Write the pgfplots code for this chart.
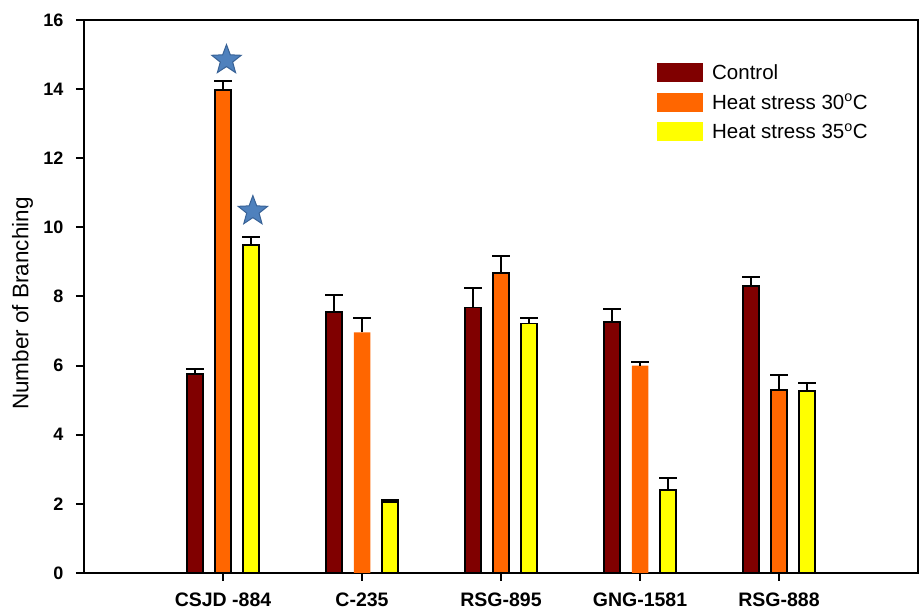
\documentclass[border=0pt]{standalone}
\usepackage{fontspec}
\setmainfont{Liberation Sans}
\usepackage{pgfplots}
\pgfplotsset{compat=1.18}
\definecolor{ctrl}{RGB}{128,0,0}
\definecolor{h30}{RGB}{255,102,0}
\definecolor{h35}{RGB}{255,255,0}
\definecolor{starblue}{RGB}{79,129,189}
\definecolor{stardark}{RGB}{56,98,150}
\pgfdeclareplotmark{fivestar}{%
  \pgfpathmoveto{\pgfpointpolar{90}{\pgfplotmarksize}}%
  \pgfpathlineto{\pgfpointpolar{126}{0.42\pgfplotmarksize}}%
  \pgfpathlineto{\pgfpointpolar{162}{\pgfplotmarksize}}%
  \pgfpathlineto{\pgfpointpolar{198}{0.42\pgfplotmarksize}}%
  \pgfpathlineto{\pgfpointpolar{234}{\pgfplotmarksize}}%
  \pgfpathlineto{\pgfpointpolar{270}{0.42\pgfplotmarksize}}%
  \pgfpathlineto{\pgfpointpolar{306}{\pgfplotmarksize}}%
  \pgfpathlineto{\pgfpointpolar{342}{0.42\pgfplotmarksize}}%
  \pgfpathlineto{\pgfpointpolar{18}{\pgfplotmarksize}}%
  \pgfpathlineto{\pgfpointpolar{54}{0.42\pgfplotmarksize}}%
  \pgfpathclose
  \pgfusepathqfillstroke
}
\pgfplotsset{
  errs/.style={
    error bars/y dir=plus, error bars/y explicit, error bars/error mark=-,
    error bars/error bar style={line width=2pt, black},
    error bars/error mark options={line width=2pt, mark size=9pt, black, rotate=90}},
}
\begin{document}
\begin{tikzpicture}
\useasboundingbox (-84pt,-36pt) rectangle (836pt,573pt);
\begin{axis}[
  at={(0pt,0pt)}, anchor=south west,
  scale only axis, width=834pt, height=553pt,
  ybar, bar width=16.5pt,
  xmin=-1, xmax=5, ymin=0, ymax=16,
  xtick={0,1,2,3,4},
  xticklabels={CSJD -884, C-235, RSG-895, GNG-1581, RSG-888},
  ytick={0,2,...,16},
  tick align=outside, major tick length=8pt,
  xtick pos=bottom, ytick pos=left,
  axis line style={line width=2pt, black},
  major tick style={line width=2pt, black},
  /pgf/number format/assume math mode=true,
  yticklabel style={font=\fontsize{18}{20}\selectfont\bfseries, xshift=-9pt},
  xticklabel style={font=\fontsize{19.5}{22}\selectfont\bfseries, yshift=-8pt},
  ylabel={Number of Branching},
  ylabel style={font=\fontsize{22.5}{25}\selectfont, at={(axis description cs:-0.0737,0.487)}, anchor=center},
  legend image code/.code={\fill[#1,draw=none] (0pt,-9.5pt) rectangle (46pt,9.5pt); \path[draw=none,fill=none] (46pt,0pt) -- (55pt,0pt);},
  legend style={draw=none, fill=none, at={(axis description cs:0.687,0.922)}, anchor=north west,
    inner sep=0pt, row sep=10.5pt, font=\fontsize{20.5}{23}\selectfont,
    nodes={inner sep=0pt}},
  legend cell align=left,
]
\addplot[errs, bar shift=-28pt, fill=ctrl, draw=black, line width=1.8pt] coordinates {
  (0,5.75) +- (0,0.15)
  (1,7.55) +- (0,0.48)
  (2,7.68) +- (0,0.56)
  (3,7.27) +- (0,0.38)
  (4,8.30) +- (0,0.27)
};
\addlegendentry{Control}
\addplot[errs, bar shift=0pt, fill=h30, draw=black, line width=1.8pt] coordinates {
  (0,13.98) +- (0,0.26)
  (2,8.68) +- (0,0.49)
  (4,5.30) +- (0,0.43)
};
\addlegendentry{Heat stress 30\textsuperscript{o}C}
\addplot[errs, bar shift=28pt, fill=h35, draw=black, line width=1.8pt] coordinates {
  (0,9.49) +- (0,0.24)
  (1,2.06) +- (0,0.04)
  (2,7.22) +- (0,0.17)
  (3,2.41) +- (0,0.33)
  (4,5.26) +- (0,0.24)
};
\addlegendentry{Heat stress 35\textsuperscript{o}C}
\addplot[errs, forget plot, bar shift=0pt, fill=h30, draw=none] coordinates {
  (1,6.96) +- (0,0.41)
  (3,6.00) +- (0,0.10)
};
\addplot[forget plot, sharp plot, only marks, mark=fivestar, mark size=15.5pt,
  mark options={fill=starblue, draw=stardark, line width=1pt}] coordinates {
  (0.025,14.84) (0.215,10.47)
};
\end{axis}
\end{tikzpicture}
\end{document}
